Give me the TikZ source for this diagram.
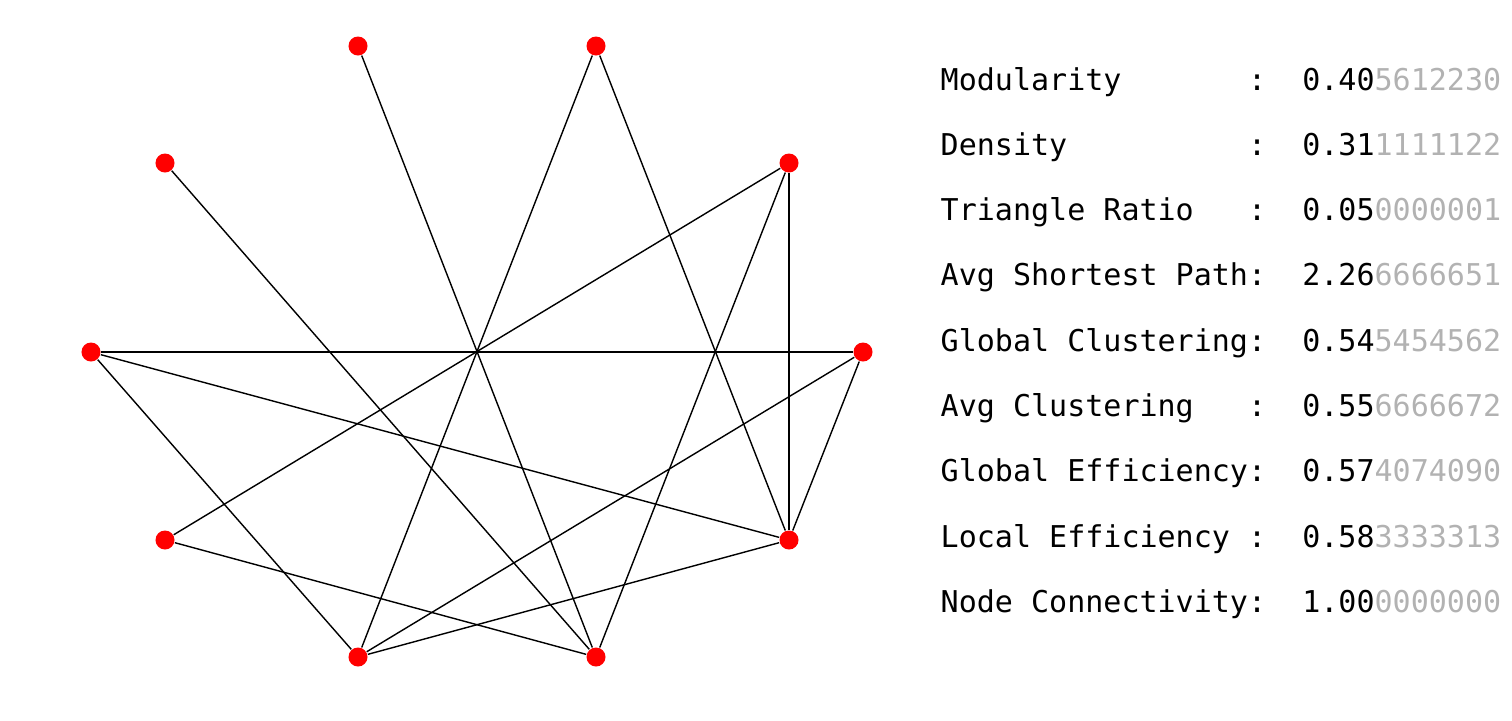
\documentclass[tikz,border=0pt]{standalone}
\usepackage{fontspec}
\setmonofont{DejaVu Sans Mono}
\usetikzlibrary{positioning}
\definecolor{faded}{gray}{0.7}

\begin{document}
\begin{tikzpicture} [x=0.01cm, y=-0.01cm, vertex/.style={circle, fill=red, inner sep=0, minimum size=0.19cm},
  stat/.style={anchor=base west, inner sep=0, font=\ttfamily\fontsize{8.54pt}{10pt}\selectfont}]
  \useasboundingbox (0,0) rectangle (1512,720);

  \node[vertex] (n1) at (358,46) {};  \node[vertex] (n2) at (596,46) {};
  \node[vertex] (n3) at (165,163) {}; \node[vertex] (n4) at (789,163) {};
  \node[vertex] (n5) at (91,352) {};  \node[vertex] (n6) at (863,352) {};
  \node[vertex] (n7) at (165,540) {}; \node[vertex] (n8) at (789,540) {};
  \node[vertex] (n9) at (358,657) {}; \node[vertex] (n10) at (596,657) {};

  \draw[line width=0.4pt] (n1) -- (n10); \draw[line width=0.4pt] (n2) -- (n9);
  \draw[line width=0.4pt] (n2) -- (n8); \draw[line width=0.4pt] (n3) -- (n10);
  \draw[line width=0.4pt] (n4) -- (n7); \draw[line width=0.4pt] (n4) -- (n8);
  \draw[line width=0.4pt] (n4) -- (n10); \draw[line width=0.4pt] (n5) -- (n6);
  \draw[line width=0.4pt] (n5) -- (n8); \draw[line width=0.4pt] (n5) -- (n9);
  \draw[line width=0.4pt] (n6) -- (n9); \draw[line width=0.4pt] (n6) -- (n8);
  \draw[line width=0.4pt] (n7) -- (n10); \draw[line width=0.4pt] (n9) -- (n8);

  \node[stat] (mod) at (940,90) {Modularity~~~~~~~:~~0.40\textcolor{faded}{5612230}};
  \node[stat] (dens) at (940,155.3) {Density~~~~~~~~~~:~~0.31\textcolor{faded}{1111122}};
  \node[stat] (tri) at (940,220.6) {Triangle~Ratio~~~:~~0.05\textcolor{faded}{0000001}};
  \node[stat] (asp) at (940,285.9) {Avg~Shortest~Path:~~2.26\textcolor{faded}{6666651}};
  \node[stat] (gclu) at (940,351.2) {Global~Clustering:~~0.54\textcolor{faded}{5454562}};
  \node[stat] (aclu) at (940,416.5) {Avg~Clustering~~~:~~0.55\textcolor{faded}{6666672}};
  \node[stat] (geff) at (940,481.8) {Global~Efficiency:~~0.57\textcolor{faded}{4074090}};
  \node[stat] (leff) at (940,547.1) {Local~Efficiency~:~~0.58\textcolor{faded}{3333313}};
  \node[stat] (conn) at (940,612.4) {Node~Connectivity:~~1.00\textcolor{faded}{0000000}};
\end{tikzpicture}
\end{document}
